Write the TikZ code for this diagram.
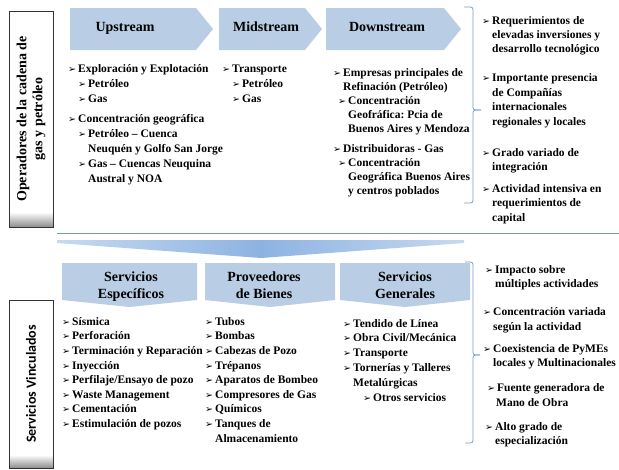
\documentclass[tikz,border=0pt]{standalone}
\usepackage{fontspec}
\setmainfont{Liberation Serif}
\newfontfamily\symfont{DejaVu Sans}
\newfontfamily\calfont{Carlito}
\usetikzlibrary{positioning}
\definecolor{chevblue}{HTML}{B9CDE5}
\definecolor{arrowblue}{HTML}{8DB3E2}
\definecolor{arrowlight}{HTML}{C6D9F1}
\definecolor{ruleblue}{HTML}{7397CB}
\definecolor{bracketblue}{HTML}{7A9CCB}
\frenchspacing

% list bullets: first level, second level, continuation
\newcommand\bul{\makebox[10pt][l]{\fontsize{9.5}{9.5}\symfont\char"27A2}}
\newcommand\ia{\strut\bul}
\newcommand\ib[1][10pt]{\strut\hspace*{#1}\bul}
\newcommand\ic[1][10pt]{\strut\hspace*{#1}}

\begin{document}
\begin{tikzpicture}[x=1pt, y=-1pt,
  chev/.style={fill=chevblue},
  head/.style={font=\fontsize{14}{17}\selectfont\bfseries, inner sep=0, align=center},
  lst/.style={font=\fontsize{11.5}{15}\selectfont\bfseries, anchor=north west, inner sep=0, align=left},
  brk/.style={draw=bracketblue, line width=0.8pt, rounded corners=2.5pt},
  lbox/.style={draw=black!80, line width=0.7pt},
  side/.style={rotate=90, inner sep=0, align=center}
]
\useasboundingbox (0,0) rectangle (619,469);

% operadores
\fill[chev] (70,8) -- (196,8) -- (213,29) -- (196,50) -- (70,50) -- cycle;
\fill[chev] (219,8) -- (305,8) -- (322,29) -- (305,50) -- (219,50) -- cycle;
\fill[chev] (326,8) -- (444,8) -- (461,29) -- (444,50) -- (326,50) -- cycle;
\node[head, anchor=base] (up) at (125,31) {Upstream};
\node[head, anchor=base] (mid) at (266,31) {Midstream};
\node[head, anchor=base] (down) at (387,31) {Downstream};

\node[lst] (uplist) at (68,62) {\ia Exploración y Explotación\\
  \ib Petróleo\\
  \ib Gas\\[5pt]
  \ia Concentración geográfica\\
  \ib Petróleo -- Cuenca\\
  \ic[20pt]Neuquén y Golfo San Jorge\\
  \ib Gas -- Cuencas Neuquina\\
  \ic[20pt]Austral y NOA};
\node[lst] (midlist) at (222,62) {\ia Transporte\\
  \ib Petróleo\\
  \ib Gas};
\node[lst, font=\fontsize{11.5}{14}\selectfont\bfseries] (downlist) at (333,66.2) {\ia Empresas principales de\\
  \ic Refinación (Petróleo)\\
  \ib[5pt]Concentración\\
  \ic[15pt]Geofráfica: Pcia de\\
  \ic[15pt]Buenos Aires y Mendoza\\[6pt]
  \ia Distribuidoras - Gas\\
  \ib[5pt]Concentración\\
  \ic[15pt]Geográfica Buenos Aires\\
  \ic[15pt]y centros poblados};

\draw[brk] (464,7) -| (473,110) -- (481,110);
\draw[brk] (481,110) -- (473,110) |- (464,203);
\node[lst, font=\fontsize{11.5}{14.4}\selectfont\bfseries] (oplist) at (482,13.9) {\ia Requerimientos de\\
  \ic elevadas inversiones y\\
  \ic desarrollo tecnológico\\[14.6pt]
  \ia Importante presencia\\
  \ic de Compañías\\
  \ic internacionales\\
  \ic regionales y locales\\[16.6pt]
  \ia Grado variado de\\
  \ic integración\\[7.6pt]
  \ia Actividad intensiva en\\
  \ic requerimientos de\\
  \ic capital};

\shade[top color=white, bottom color=black!45] (9,212) rectangle (53,227);
\draw[lbox] (9,11) rectangle (53,227);
\node[side, font=\fontsize{14}{16}\selectfont\bfseries] (ops) at (31,119) {Operadores de la cadena de\\gas y petróleo};

% separador
\draw[ruleblue, line width=0.9pt] (57,233) -- (619,233);
\shade[left color=arrowlight, right color=arrowlight, middle color=arrowblue]
  (57,240) -- (464,240) -- (464,243) -- (261,258) -- (57,243) -- cycle;

% servicios vinculados
\fill[chev] (62,263) -- (197,263) -- (197,300) -- (129.5,307) -- (62,300) -- cycle;
\fill[chev] (205,263) -- (335,263) -- (335,300) -- (270,307) -- (205,300) -- cycle;
\fill[chev] (340,263) -- (470,263) -- (470,300) -- (405,307) -- (340,300) -- cycle;
\node[head, anchor=north] (spec) at (131,269.1) {\strut Servicios\\\strut Específicos};
\node[head, anchor=north] (prov) at (264,269.1) {\strut Proveedores\\\strut de Bienes};
\node[head, anchor=north] (gen) at (405,269.1) {\strut Servicios\\\strut Generales};

\node[lst, font=\fontsize{11.5}{14.6}\selectfont\bfseries] (speclist) at (62,314.8) {\ia Sísmica\\
  \ia Perforación\\
  \ia Terminación y Reparación\\
  \ia Inyección\\
  \ia Perfilaje/Ensayo de pozo\\
  \ia Waste Management\\
  \ia Cementación\\
  \ia Estimulación de pozos};
\node[lst, font=\fontsize{11.5}{14.6}\selectfont\bfseries] (provlist) at (205,314.8) {\ia Tubos\\
  \ia Bombas\\
  \ia Cabezas de Pozo\\
  \ia Trépanos\\
  \ia Aparatos de Bombeo\\
  \ia Compresores de Gas\\
  \ia Químicos\\
  \ia Tanques de\\
  \ic Almacenamiento};
\node[lst, font=\fontsize{11.5}{14.8}\selectfont\bfseries] (genlist) at (343,316.6) {\ia Tendido de Línea\\
  \ia Obra Civil/Mecánica\\
  \ia Transporte\\
  \ia Tornerías y Talleres\\
  \ic Metalúrgicas\\
  \ib[20pt]Otros servicios};

\draw[brk] (465,262) -| (473,355) -- (480,355);
\draw[brk] (480,355) -- (473,355) |- (465,443);
\node[lst, font=\fontsize{11.5}{14.5}\selectfont\bfseries] (vinclist) at (483,262.9) {\ic[2pt]\bul Impacto sobre\\
  \ic[12pt]múltiples actividades\\[13.5pt]
  \ia Concentración variada\\
  \ic según la actividad\\[7.5pt]
  \ia Coexistencia de PyMEs\\
  \ic locales y Multinacionales\\[10.5pt]
  \ic[4pt]\bul Fuente generadora de\\
  \ic[13pt]Mano de Obra\\[9.5pt]
  \ic[2pt]\bul Alto grado de\\
  \ic[12pt]especialización};

\shade[top color=white, bottom color=black!45] (9,455) rectangle (53,468);
\draw[lbox] (9,300) rectangle (53,468);
\node[side, font=\fontsize{14}{16}\selectfont\calfont\bfseries] (vinc) at (31,384) {Servicios Vinculados};
\end{tikzpicture}
\end{document}
